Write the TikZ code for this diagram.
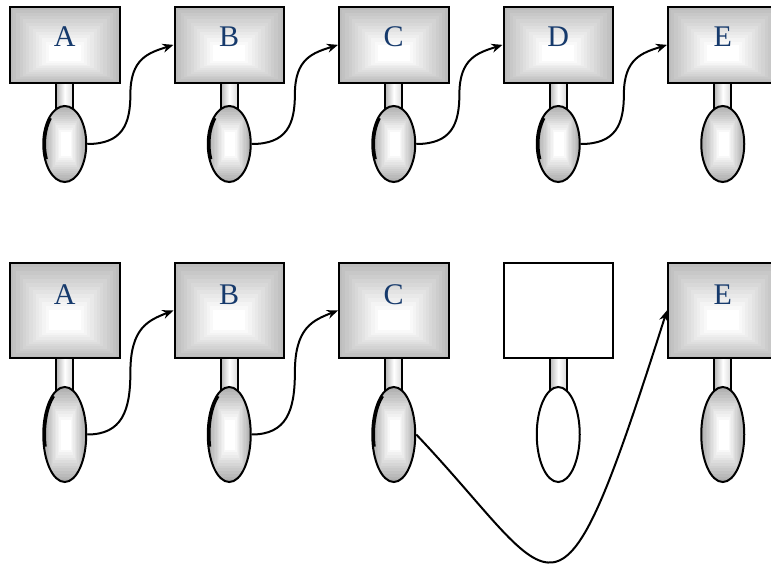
\documentclass[tikz,border=0pt]{standalone}
\usepackage{fontspec}
\setmainfont{Liberation Serif}
\usetikzlibrary{calc,shapes.geometric,arrows.meta}
\definecolor{lblue}{RGB}{22,58,108}
% stepped rectangular shading inside a path picture
% #1 outer darkness, #2 half width, #3 half height, #4 core left, #5 core right, #6 core top, #7 core bottom
\newcommand\rshd[7]{%
  \foreach \k in {0,...,12}{%
    \pgfmathsetmacro\ff{\k/12}%
    \pgfmathsetmacro\dd{#1*(1-\ff)}%
    \pgfmathsetmacro\xl{-(#2)*(1-\ff)+(#4)*\ff}%
    \pgfmathsetmacro\xr{(#2)*(1-\ff)+(#5)*\ff}%
    \pgfmathsetmacro\yt{-(#3)*(1-\ff)+(#6)*\ff}%
    \pgfmathsetmacro\yb{(#3)*(1-\ff)+(#7)*\ff}%
    \fill[black!\dd] ($(path picture bounding box.center)+(\xl,\yt)$) rectangle ($(path picture bounding box.center)+(\xr,\yb)$);
  }}
% dark band on the left edge of an ellipse
\newcommand\blot[4]{%
  \begin{scope}
    \clip (#1.center) ellipse [x radius=21.5, y radius=#2];
    \draw[line width=5.5pt] (#1.center) ++(#3:21.5 and #2) arc[start angle=#3, end angle=#4, x radius=21.5, y radius=#2];
  \end{scope}}
\tikzset{
  boxA/.style={draw, line width=2pt, inner sep=0pt, minimum width=109.5pt, minimum height=76.3pt,
    path picture={\rshd{26}{54.75}{38.15}{-16}{16}{0}{16}}},
  boxB/.style={draw, line width=2pt, inner sep=0pt, minimum width=109.5pt, minimum height=95.3pt,
    path picture={\rshd{26}{54.75}{47.65}{-16}{16}{0}{20}}},
  boxW/.style={draw, line width=2pt, inner sep=0pt, minimum width=109.5pt, minimum height=95.3pt, fill=white},
  lbl/.style={inner sep=0pt, anchor=base, text=lblue, font=\fontsize{30}{32}\selectfont},
  stem/.style={draw, line width=2pt, inner sep=0pt, minimum width=17pt,
    left color=black!28, right color=black!15, middle color=white},
  ellA/.style={ellipse, draw, line width=2pt, inner sep=0pt, minimum width=43pt, minimum height=76pt,
    path picture={\rshd{32}{21.5}{38}{-4}{6}{-12}{12}}},
  ellB/.style={ellipse, draw, line width=2pt, inner sep=0pt, minimum width=43pt, minimum height=95pt,
    path picture={\rshd{32}{21.5}{47.5}{-4}{6}{-15}{15}}},
  ellW/.style={ellipse, draw, line width=2pt, inner sep=0pt, minimum width=43pt, minimum height=95pt, fill=white},
  conn/.style={line width=2pt, -{Stealth[length=11pt,width=9pt]}}
}
\begin{document}
\begin{tikzpicture}[x=1pt,y=-1pt]
\useasboundingbox (0,0) rectangle (771,564);
\clip (0,0) rectangle (771,564);
% ---------- row 1 ----------
\foreach \L [count=\i from 0] in {A,B,C,D,E}{
  \pgfmathsetmacro\cx{64.75+164.5*\i}
  \node[boxA] (b\L1) at (\cx,44.85) {};
  \node[lbl] (t\L1) at (\cx,47) {\L};
  \node[stem, minimum height=32pt] (s\L1) at (\cx,99) {};
  \node[ellA] (e\L1) at (\cx,144) {};
}
\foreach \L in {A,B,C,D}{\blot{e\L1}{38}{156}{224}}
% ---------- row 2 ----------
\foreach \L/\i in {A/0,B/1,C/2,E/4}{
  \pgfmathsetmacro\cx{64.75+164.5*\i}
  \node[boxB] (b\L2) at (\cx,310.35) {};
  \node[lbl] (t\L2) at (\cx,304) {\L};
  \node[stem, minimum height=38pt] (s\L2) at (\cx,377) {};
  \node[ellB] (e\L2) at (\cx,434.5) {};
}
\node[boxW] (bD2) at (558.25,310.35) {};
\node[stem, minimum height=38pt] (sD2) at (558.25,377) {};
\node[ellW] (eD2) at (558.25,434.5) {};
\foreach \L in {A,B,C}{\blot{e\L2}{47.5}{165}{235}}
% ---------- connectors ----------
\foreach \a/\b in {A/B,B/C,C/D,D/E}{
  \draw[conn] (e\a1.east) .. controls +(35,0) and +(0,30) .. ($(e\a1.east)!.5!(b\b1.west)$)
    .. controls +(0,-36) and +(-25,8) .. (b\b1.west);
}
\foreach \a/\b in {A/B,B/C}{
  \draw[conn] (e\a2.east) .. controls +(35,0) and +(0,38) .. ($(e\a2.east)!.5!(b\b2.west)$)
    .. controls +(0,-45) and +(-25,10) .. (b\b2.west);
}
\draw[conn] (eC2.east) .. controls +(145,153) and +(-112,351) .. (bE2.west);
\end{tikzpicture}
\end{document}
